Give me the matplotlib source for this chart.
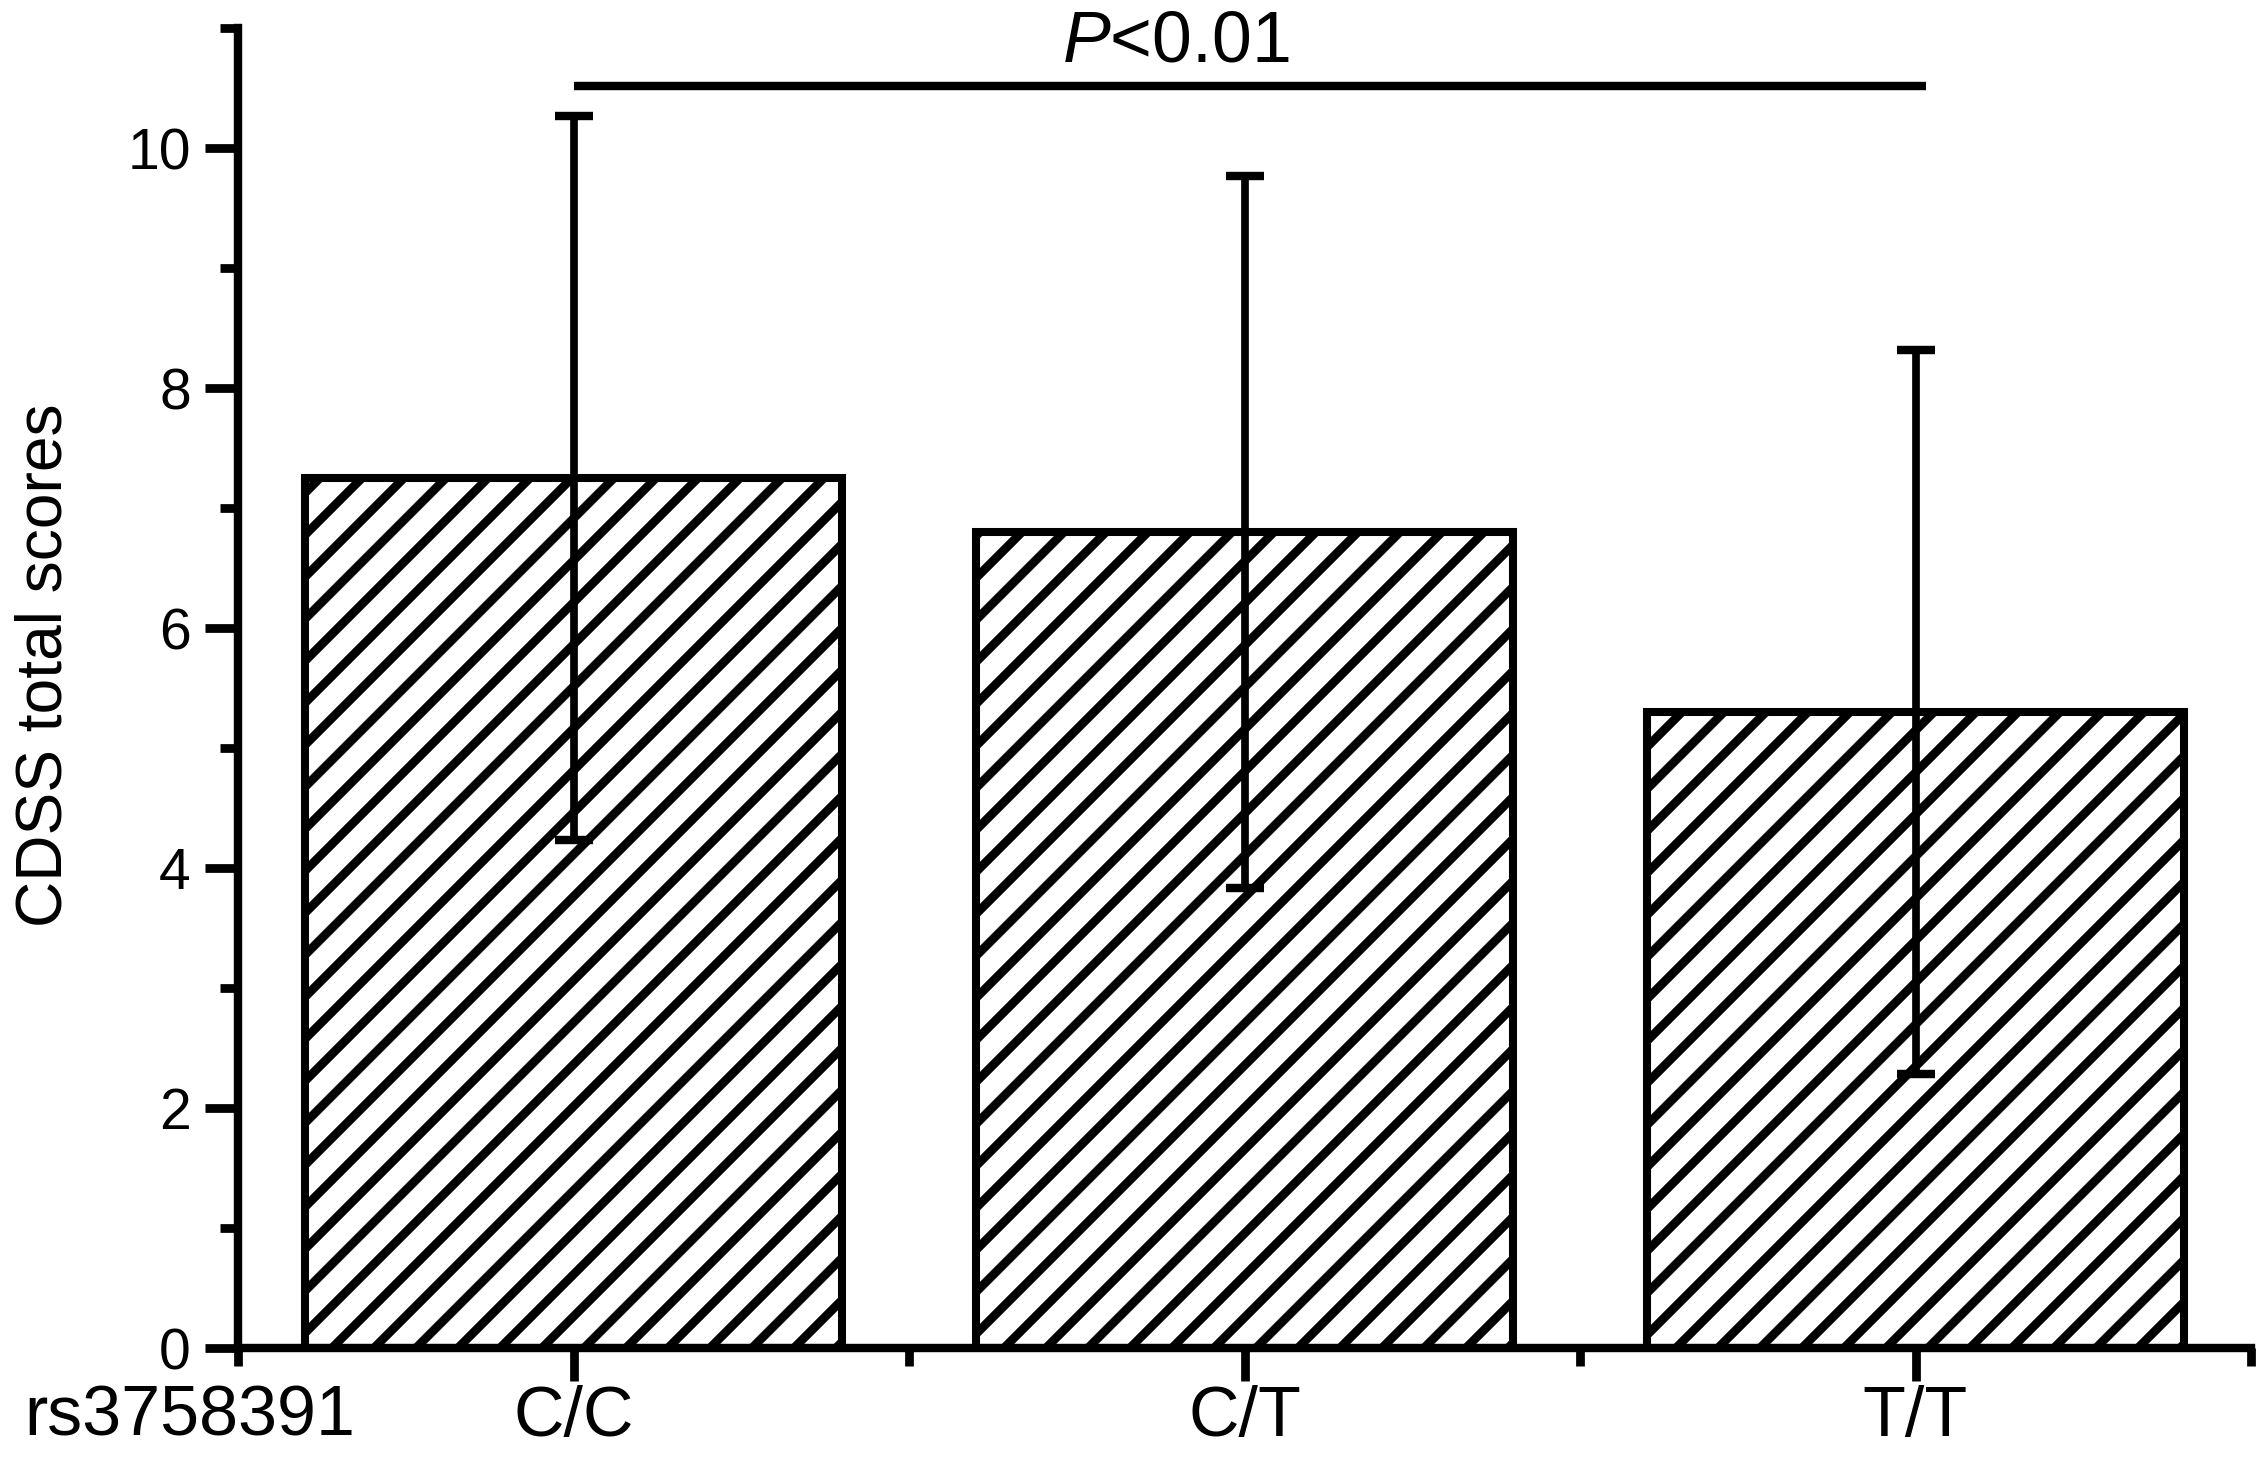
import numpy as np
import matplotlib
matplotlib.use("Agg")
import matplotlib.pyplot as plt

# data
categories = ["C/C", "C/T", "T/T"]
means = [7.25, 6.80, 5.30]
sds = [3.02, 2.97, 3.02]
snp_name = "rs3758391"
y_label = "CDSS total scores"
sig_text = "$P$<0.01"
sig_x = [1.0, 3.015]
sig_y = 10.52

DPI = 252
plt.rcParams["font.family"] = ["Liberation Sans", "DejaVu Sans"]
plt.rcParams["mathtext.fontset"] = "custom"
plt.rcParams["mathtext.rm"] = "Liberation Sans"
plt.rcParams["mathtext.it"] = "Liberation Sans:italic"
plt.rcParams["hatch.linewidth"] = 2.5
plt.rcParams["hatch.color"] = "black"

fig = plt.figure(figsize=(2267 / DPI, 1460 / DPI), dpi=DPI)
ax = fig.add_axes([238 / 2267, 1 - 1348 / 1460, (2251 - 238) / 2267, 1320 / 1460])

x = np.arange(1, len(categories) + 1)
ax.bar(x, means, width=0.8, color="white", edgecolor="black",
       linewidth=2.3, hatch="//", zorder=1)
ax.errorbar(x, means, yerr=sds, fmt="none", ecolor="black",
            elinewidth=2.2, capsize=5.3, capthick=2.4, zorder=3)

# significance bar
ax.plot(sig_x, [sig_y, sig_y], color="black", linewidth=2.4,
        solid_capstyle="butt", clip_on=False)
ax.text(1.728, 10.717, sig_text, fontsize=20.5, ha="left", va="baseline")

ax.set_xlim(0.5, 3.5)
ax.set_ylim(0, 11)

for side in ["top", "right"]:
    ax.spines[side].set_visible(False)
for side in ["left", "bottom"]:
    ax.spines[side].set_linewidth(2.4)

ax.set_xticks(x)
ax.set_xticklabels(categories, fontsize=20)
ax.set_xticks(np.arange(0.5, 3.6, 1.0), minor=True)
ax.set_yticks(np.arange(0, 11, 2))
ax.set_yticks(np.arange(1, 12, 2), minor=True)
ax.tick_params(axis="y", which="major", length=9.5, width=2.5, labelsize=16.3, pad=4)
ax.tick_params(axis="y", which="minor", length=5.2, width=2.5)
ax.tick_params(axis="x", which="major", length=9.5, width=2.5, pad=1)
ax.tick_params(axis="x", which="minor", length=5.2, width=2.5)

ax.annotate(snp_name, xy=(0.674, 0), xycoords=("data", "axes fraction"),
            xytext=(0, -10.5), textcoords="offset points",
            ha="right", va="top", fontsize=20, annotation_clip=False)

ax.set_ylabel(y_label, fontsize=18.3)
ax.yaxis.set_label_coords(-0.081, 0.517)

fig.savefig("out.png", dpi=DPI)
